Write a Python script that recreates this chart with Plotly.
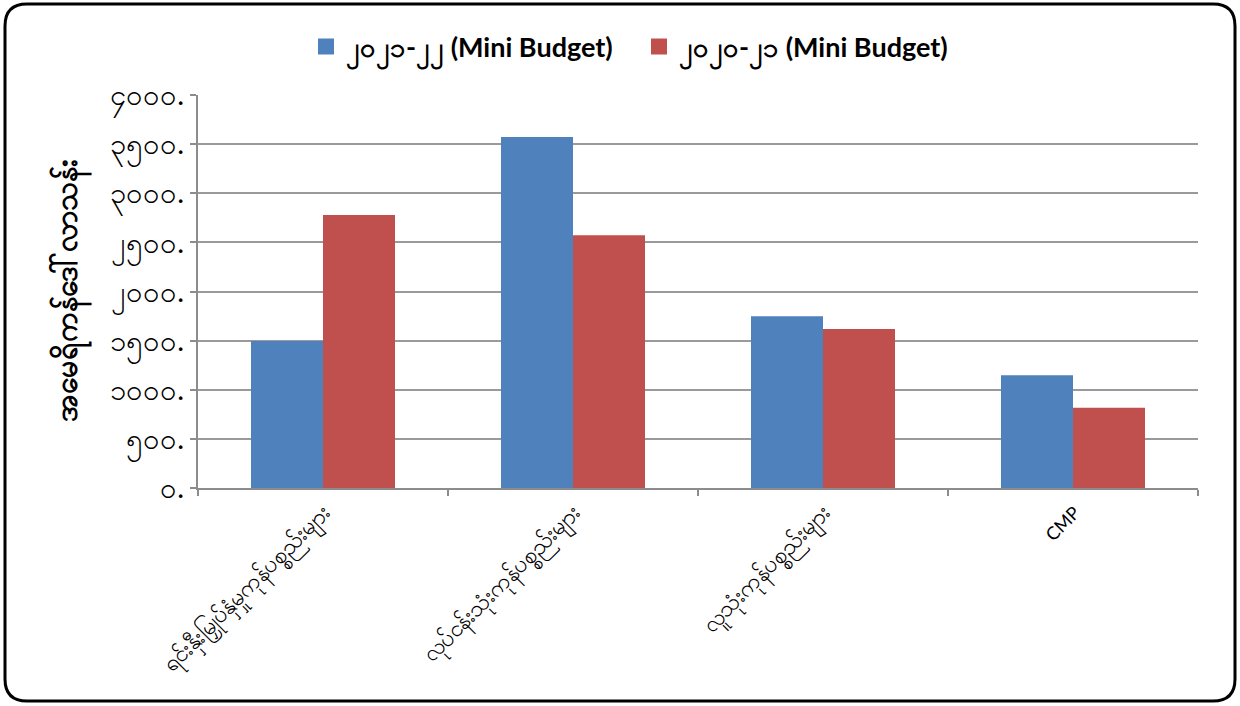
import plotly.graph_objects as go

categories = ["ရင်းနှီးမြှုပ်နှံမှုကုန်ပစ္စည်းများ", "လုပ်ငန်းသုံးကုန်ပစ္စည်းများ", "လူသုံးကုန်ပစ္စည်းများ", "CMP"]
category_labels = ["ရင်းနှီးမြှုပ်နှံမှုကုန်ပစ္စည်းများ", "လုပ်ငန်းသုံးကုန်ပစ္စည်းများ", "လူသုံးကုန်ပစ္စည်းများ",
                   "<span style='font-size:18px'>CMP</span>"]
series_names = ["၂၀၂၁-၂၂ (Mini Budget)", "၂၀၂၀-၂၁ (Mini Budget)"]
series_colors = ["#4f81bd", "#c0504d"]
values_2122 = [1495, 3572, 1747, 1148]
values_2021 = [2778, 2573, 1619, 817]
tick_vals = [0, 500, 1000, 1500, 2000, 2500, 3000, 3500, 4000]
tick_text = ["၀.", "၅၀၀.", "၁၀၀၀.", "၁၅၀၀.", "၂၀၀၀.", "၂၅၀၀.", "၃၀၀၀.", "၃၅၀၀.", "၄၀၀၀."]
y_title = "အမေရိကန်ဒေါ်လာသန်း"

W, H = 1240, 706
L, R, T, B = 198, 1198, 95, 488
FONT = "Lato, 'Noto Sans', sans-serif"

fig = go.Figure()
for name, vals, col in zip(series_names, [values_2122, values_2021], series_colors):
    fig.add_trace(go.Bar(x=categories, y=vals, name=name, legendgroup=name, showlegend=False,
                         marker=dict(color=col, line=dict(width=0))))
    # legend entry with a larger square swatch
    fig.add_trace(go.Scatter(x=[None], y=[None], mode="markers", name=name, legendgroup=name,
                             marker=dict(symbol="square", size=16, color=col), showlegend=True))

def px(x):
    return (x - L) / (R - L)

def py(y):
    return (B - y) / (B - T)

x0, x1, y0, y1, r = 5, 1235, 4, 701, 22
path = (f"M {px(x0+r)},{py(y0)} L {px(x1-r)},{py(y0)} Q {px(x1)},{py(y0)} {px(x1)},{py(y0+r)} "
        f"L {px(x1)},{py(y1-r)} Q {px(x1)},{py(y1)} {px(x1-r)},{py(y1)} "
        f"L {px(x0+r)},{py(y1)} Q {px(x0)},{py(y1)} {px(x0)},{py(y1-r)} "
        f"L {px(x0)},{py(y0+r)} Q {px(x0)},{py(y0)} {px(x0+r)},{py(y0)} Z")

fig.update_layout(
    width=W, height=H,
    margin=dict(l=L, r=W - R, t=T, b=H - B, pad=0),
    paper_bgcolor="white", plot_bgcolor="white",
    barmode="group", bargap=0.424, bargroupgap=0,
    font=dict(family=FONT, color="black"),
    legend=dict(orientation="h", x=px(306), xanchor="left", y=py(47), yanchor="middle",
                font=dict(size=27, family=FONT, weight="bold"), itemwidth=30,
                traceorder="normal", entrywidth=288),
    showlegend=True,
    shapes=[dict(type="path", xref="paper", yref="paper", path=path,
                 line=dict(color="black", width=3), layer="above")],
    xaxis=dict(type="category", tickson="boundaries", ticks="outside", ticklen=6,
               tickcolor="#8c8c8c", tickwidth=2, showline=True, linecolor="#8c8c8c",
               linewidth=2, showgrid=False, tickangle=-45,
               tickvals=categories, ticktext=category_labels,
               tickfont=dict(size=23, color="black")),
    yaxis=dict(range=[0, 4000], tickvals=tick_vals, ticktext=tick_text,
               ticks="outside", ticklen=6, tickcolor="#8c8c8c", tickwidth=2,
               showline=True, linecolor="#8c8c8c", linewidth=2,
               showgrid=True, gridcolor="#9a9a9a", gridwidth=2, zeroline=False,
               tickfont=dict(size=29, color="black"),
               title=dict(text=y_title, font=dict(size=30, color="black", weight="bold"),
                          standoff=24)),
)

fig.write_html("out.html", config={"displayModeBar": False},
               post_script="document.body.style.margin='0';document.body.style.overflow='hidden';")
